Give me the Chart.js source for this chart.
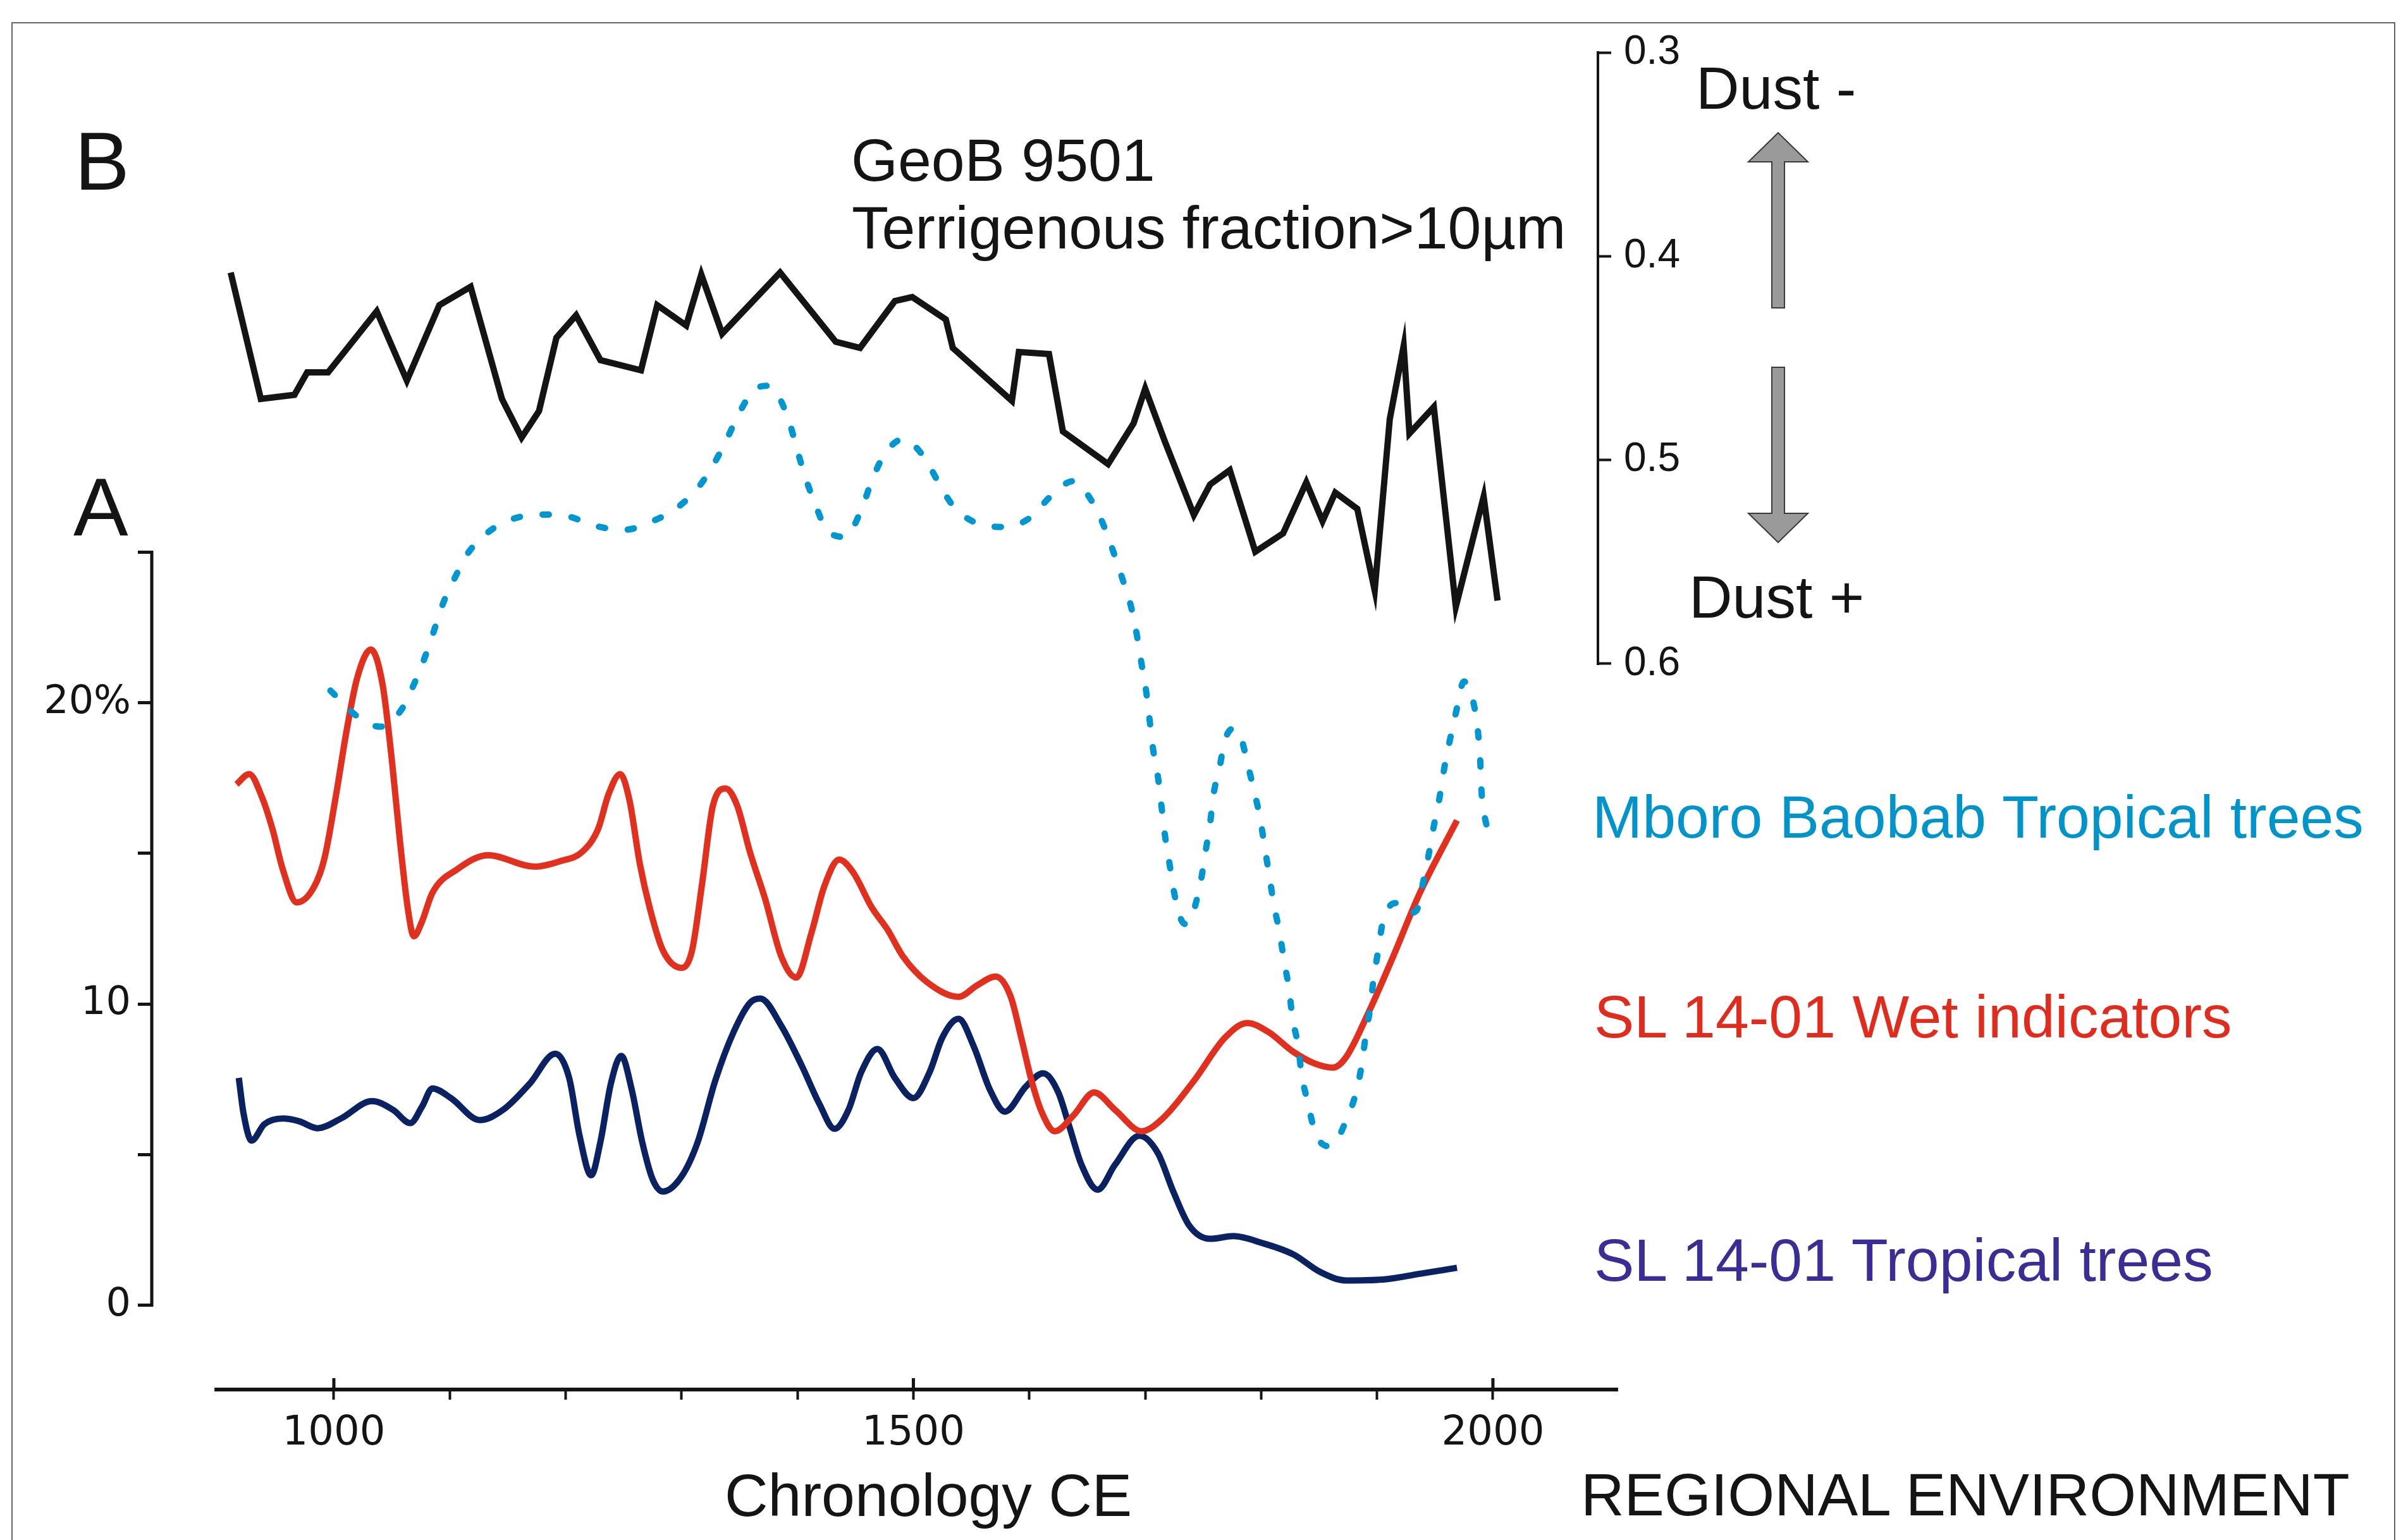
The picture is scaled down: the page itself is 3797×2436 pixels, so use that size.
<!DOCTYPE html>
<html>
<head>
<meta charset="utf-8">
<script src="https://cdn.jsdelivr.net/npm/chart.js@4.4.1/dist/chart.umd.min.js"></script>
<style>
  html, body { margin: 0; padding: 0; background: #fff; }
  #wrap { position: relative; width: 3797px; height: 2436px; overflow: hidden; background: #fff; }
  #chart { position: absolute; left: 0; top: 0; }
  .frame { position: absolute; left: 18px; top: 35px; width: 3770px; height: 2460px; border: 2px solid #666; box-sizing: border-box; }
  .txt { position: absolute; font-family: "Liberation Sans", Arial, sans-serif; font-size: 95px; line-height: 1; white-space: nowrap; color: #141414; }
</style>
</head>
<body>
<div id="wrap">
  <div class="frame"></div>
  <canvas id="chart" width="3797" height="2436"></canvas>
  <div class="txt" style="left:118px; top:190px; font-size:130px;">B</div>
  <div class="txt" style="left:116px; top:737px; font-size:130px;">A</div>
  <div class="txt" style="left:1346px; top:206px;">GeoB 9501</div>
  <div class="txt" style="left:1347px; top:313px;">Terrigenous fraction&gt;10µm</div>
  <div class="txt" style="left:2682px; top:92px;">Dust -</div>
  <div class="txt" style="left:2671px; top:897px;">Dust +</div>
  <div class="txt" style="left:2518px; top:1245px; color:#0094ca;">Mboro Baobab Tropical trees</div>
  <div class="txt" style="left:2521px; top:1561px; color:#e12b1d;">SL 14-01 Wet indicators</div>
  <div class="txt" style="left:2521px; top:1946px; color:#3a2e96;">SL 14-01 Tropical trees</div>
  <div class="txt" style="left:1146px; top:2318px;">Chronology CE</div>
  <div class="txt" style="left:2500px; top:2317px;">REGIONAL ENVIRONMENT</div>
</div>
<script>
// GeoB 9501 terrigenous fraction >10um (right axis, reversed)
let geobYears = [911, 937, 966, 977, 995, 1037, 1063, 1091, 1118, 1145, 1162, 1177, 1192, 1209, 1230, 1265, 1279, 1304, 1317, 1335,
  1385, 1433, 1454, 1484, 1499, 1528, 1534, 1585, 1591, 1617, 1629, 1668, 1690, 1700, 1717, 1742, 1756, 1773, 1795, 1819,
  1839, 1853, 1864, 1883, 1898, 1911, 1923, 1928, 1949, 1968, 1992, 2004];
let geobValues = [0.408, 0.470, 0.468, 0.457, 0.457, 0.427, 0.461, 0.424, 0.415, 0.470, 0.489, 0.476, 0.440, 0.429, 0.451, 0.456, 0.424, 0.434, 0.409, 0.438,
  0.408, 0.442, 0.445, 0.422, 0.420, 0.431, 0.445, 0.471, 0.447, 0.448, 0.486, 0.502, 0.482, 0.465, 0.491, 0.527, 0.512, 0.505, 0.545, 0.536,
  0.511, 0.530, 0.516, 0.524, 0.564, 0.480, 0.444, 0.487, 0.474, 0.572, 0.518, 0.569];

// Mboro Baobab tropical trees (%)
let mboroYears = [997, 1020, 1040, 1058, 1069, 1078, 1086, 1094, 1104, 1115, 1133, 1154, 1180, 1203, 1225, 1250, 1275, 1296, 1314, 1327,
  1339, 1350, 1363, 1375, 1384, 1393, 1400, 1407, 1415, 1425, 1441, 1455, 1464, 1475, 1491, 1509, 1521, 1534, 1555, 1579,
  1602, 1618, 1638, 1654, 1665, 1674, 1681, 1688, 1693, 1697, 1701, 1704, 1707, 1711, 1714, 1717, 1721, 1725, 1731, 1736,
  1742, 1748, 1752, 1756, 1759, 1764, 1769, 1777, 1783, 1788, 1794, 1799, 1803, 1807, 1811, 1816, 1820, 1824, 1827, 1832,
  1835, 1840, 1846, 1853, 1860, 1867, 1873, 1882, 1887, 1890, 1894, 1897, 1901, 1905, 1911, 1916, 1926, 1934, 1940, 1945,
  1949, 1954, 1958, 1963, 1968, 1975, 1983, 1987, 1989, 1990, 1993, 2004];
let mboroValues = [20.4, 19.55, 19.2, 19.75, 20.6, 21.45, 22.34, 23.27, 24.11, 24.92, 25.65, 26.09, 26.24, 26.17, 25.87, 25.73, 26.02, 26.46, 27.12, 27.86,
  28.74, 29.63, 30.39, 30.51, 30.14, 29.3, 28.35, 27.45, 26.61, 25.75, 25.5, 26.39, 27.35, 28.23, 28.74, 28.16, 27.35, 26.54, 25.95, 25.83,
  26.17, 26.83, 27.35, 26.68, 25.8, 24.84, 24.03, 23.15, 22.2, 21.25, 20.33, 19.36, 18.4, 17.54, 16.58, 15.61, 14.65, 13.69, 12.8, 12.65,
  13.12, 14.08, 15.04, 16.0, 16.96, 17.82, 18.78, 19.15, 18.8, 18.02, 17.06, 16.19, 15.23, 14.27, 13.31, 12.35, 11.39, 10.52, 9.56, 8.6,
  7.65, 6.78, 5.82, 5.35, 5.28, 5.6, 6.11, 7.07, 8.03, 8.89, 9.85, 10.81, 11.77, 12.73, 13.25, 13.35, 13.0, 13.1, 14.08, 15.04,
  15.9, 16.86, 17.82, 18.78, 19.65, 20.7, 20.03, 19.07, 18.11, 17.15, 16.19, 15.33];

// SL 14-01 wet indicators (%)
let wetYears = [916, 927, 938, 947, 956, 968, 983, 992, 1002, 1011, 1020, 1032, 1042, 1050, 1057, 1064, 1069, 1076, 1085, 1106,
  1133, 1173, 1196, 1214, 1228, 1237, 1247, 1255, 1264, 1273, 1284, 1300, 1309, 1318, 1327, 1338, 1348, 1359, 1372, 1386,
  1399, 1412, 1423, 1436, 1448, 1464, 1478, 1491, 1512, 1539, 1555, 1571, 1584, 1593, 1602, 1611, 1622, 1638, 1656, 1674,
  1697, 1715, 1742, 1769, 1788, 1806, 1828, 1846, 1862, 1873, 1892, 1914, 1937, 1969];
let wetValues = [17.29, 17.63, 16.86, 15.81, 14.46, 13.37, 13.89, 14.85, 16.96, 19.07, 20.8, 21.76, 20.61, 18.11, 15.42, 13.12, 12.25, 12.73, 13.69, 14.46,
  14.94, 14.56, 14.75, 15.04, 15.81, 16.96, 17.63, 16.77, 14.65, 13.12, 11.77, 11.2, 11.77, 14.08, 16.58, 17.15, 16.58, 15.04, 13.5, 11.58,
  10.88, 12.35, 13.89, 14.79, 14.37, 13.21, 12.45, 11.58, 10.72, 10.24, 10.62, 10.91, 10.24, 8.89, 7.45, 6.39, 5.78, 6.3, 7.07, 6.49,
  5.78, 6.2, 7.45, 8.89, 9.37, 9.08, 8.41, 8.03, 7.89, 8.22, 9.66, 11.58, 13.69, 16.09];

// SL 14-01 tropical trees (%)
let tropYears = [918, 922, 929, 940, 956, 970, 986, 1006, 1033, 1051, 1066, 1076, 1085, 1101, 1126, 1146, 1169, 1191, 1203, 1212,
  1222, 1230, 1239, 1248, 1257, 1266, 1275, 1284, 1300, 1314, 1329, 1345, 1359, 1368, 1386, 1404, 1419, 1432, 1444, 1455,
  1469, 1484, 1500, 1514, 1525, 1539, 1552, 1566, 1579, 1597, 1612, 1625, 1634, 1645, 1659, 1674, 1695, 1711, 1724, 1738,
  1756, 1776, 1801, 1828, 1851, 1873, 1905, 1937, 1969];
let tropValues = [7.55, 6.39, 5.47, 6.01, 6.2, 6.11, 5.88, 6.2, 6.78, 6.49, 6.05, 6.59, 7.2, 6.88, 6.15, 6.49, 7.36, 8.35, 7.55, 5.63,
  4.32, 5.43, 7.36, 8.28, 7.16, 5.43, 4.19, 3.78, 4.28, 5.43, 7.45, 9.08, 10.04, 10.18, 9.28, 7.93, 6.68, 5.86, 6.49, 7.74,
  8.51, 7.55, 6.88, 7.74, 8.89, 9.51, 8.6, 7.16, 6.43, 7.26, 7.7, 7.07, 6.01, 4.67, 3.84, 4.67, 5.63, 5.05, 3.8, 2.65,
  2.21, 2.3, 2.07, 1.69, 1.11, 0.83, 0.86, 1.05, 1.25];

// ticks
let xTickValues = [1000, 1100, 1200, 1300, 1400, 1500, 1600, 1700, 1800, 1900, 2000];
let xLabelValues = [1000, 1500, 2000];
let pctTickValues = [0, 5, 10, 15, 20, 25];
let pctTickLabels = {0: '0', 10: '10', 20: '20%'};
let dustTickValues = [0.3, 0.4, 0.5, 0.6];

function pts(xs, ys) {
  return xs.map((x, i) => ({x: x, y: ys[i]}));
}

let ink = '#141414';

let axisLines = {
  id: 'axisLines',
  afterDraw(chart) {
    let ctx = chart.ctx;
    let area = chart.chartArea;
    let x = chart.scales.x, yA = chart.scales.yA, yB = chart.scales.yB;
    ctx.save();
    ctx.strokeStyle = ink;
    ctx.lineCap = 'butt';
    let seg = (x1, y1, x2, y2) => { ctx.beginPath(); ctx.moveTo(x1, y1); ctx.lineTo(x2, y2); ctx.stroke(); };

    // percent axis (A)
    ctx.lineWidth = 5;
    seg(area.left, yA.getPixelForValue(25) - 2, area.left, yA.getPixelForValue(0) + 2);
    // time axis
    ctx.lineWidth = 6;
    seg(x.getPixelForValue(897), area.bottom, x.getPixelForValue(2108), area.bottom);
    ctx.lineWidth = 5;
    xLabelValues.forEach(v => seg(x.getPixelForValue(v), area.bottom - 18, x.getPixelForValue(v), area.bottom));
    // dust axis (B)
    ctx.lineWidth = 4;
    seg(area.right, yB.getPixelForValue(0.3) - 2, area.right, yB.getPixelForValue(0.6) + 2);

    // grey arrows
    ctx.fillStyle = '#9a9a9a';
    ctx.strokeStyle = '#3a3a3a';
    ctx.lineWidth = 2;
    let cx = 2812;
    ctx.beginPath();
    ctx.moveTo(cx, 210); ctx.lineTo(cx + 47, 256); ctx.lineTo(cx + 10, 256); ctx.lineTo(cx + 10, 487);
    ctx.lineTo(cx - 10, 487); ctx.lineTo(cx - 10, 256); ctx.lineTo(cx - 47, 256); ctx.closePath();
    ctx.fill(); ctx.stroke();
    ctx.beginPath();
    ctx.moveTo(cx, 858); ctx.lineTo(cx + 47, 812); ctx.lineTo(cx + 10, 812); ctx.lineTo(cx + 10, 581);
    ctx.lineTo(cx - 10, 581); ctx.lineTo(cx - 10, 812); ctx.lineTo(cx - 47, 812); ctx.closePath();
    ctx.fill(); ctx.stroke();
    ctx.restore();
  }
};

let chart = new Chart(document.getElementById('chart'), {
  type: 'line',
  data: {
    datasets: [{
      label: 'GeoB 9501 Terrigenous fraction>10µm',
      data: pts(geobYears, geobValues),
      yAxisID: 'yB',
      borderColor: ink,
      borderWidth: 10,
      borderJoinStyle: 'miter',
      tension: 0,
      pointRadius: 0
    }, {
      label: 'Mboro Baobab Tropical trees',
      data: pts(mboroYears, mboroValues),
      yAxisID: 'yA',
      borderColor: '#0096d1',
      borderWidth: 10,
      borderDash: [10, 36],
      borderCapStyle: 'round',
      cubicInterpolationMode: 'monotone',
      pointRadius: 0
    }, {
      label: 'SL 14-01 Wet indicators',
      data: pts(wetYears, wetValues),
      yAxisID: 'yA',
      borderColor: '#e2301f',
      borderWidth: 10,
      cubicInterpolationMode: 'monotone',
      pointRadius: 0
    }, {
      label: 'SL 14-01 Tropical trees',
      data: pts(tropYears, tropValues),
      yAxisID: 'yA',
      borderColor: '#0b2262',
      borderWidth: 10,
      cubicInterpolationMode: 'monotone',
      pointRadius: 0
    }]
  },
  options: {
    responsive: false,
    animation: false,
    devicePixelRatio: 1,
    events: [],
    layout: { padding: { left: 40, right: 1120, top: 83, bottom: 118 } },
    plugins: { legend: { display: false }, tooltip: { enabled: false } },
    scales: {
      x: {
        type: 'linear',
        min: 842.9,
        max: 2090.6,
        afterFit: s => { s.height = 120; },
        afterBuildTicks: s => { s.ticks = xTickValues.map(v => ({value: v})); },
        border: { display: false },
        grid: { drawOnChartArea: false, drawTicks: true, tickLength: 16, tickWidth: 4, tickColor: ink },
        ticks: {
          autoSkip: false, maxRotation: 0, padding: 16, color: ink,
          font: { family: 'DejaVu Sans', size: 64 },
          callback: v => xLabelValues.includes(v) ? String(v) : ''
        }
      },
      yA: {
        type: 'linear',
        position: 'left',
        min: -2.79,
        max: 41.57,
        afterFit: s => { s.width = 200; },
        afterBuildTicks: s => { s.ticks = pctTickValues.map(v => ({value: v})); },
        border: { display: false },
        grid: { drawOnChartArea: false, drawTicks: true, tickLength: 22, tickWidth: 5, tickColor: ink },
        ticks: {
          padding: 11, color: ink,
          font: { family: 'DejaVu Sans', size: 62 },
          callback: v => pctTickLabels[v] !== undefined ? pctTickLabels[v] : ''
        }
      },
      yB: {
        type: 'linear',
        position: 'right',
        reverse: true,
        min: 0.3,
        max: 0.9562,
        afterFit: s => { s.width = 150; },
        afterBuildTicks: s => { s.ticks = dustTickValues.map(v => ({value: v})); },
        border: { display: false },
        grid: { drawOnChartArea: false, drawTicks: true, tickLength: 21, tickWidth: 4, tickColor: ink },
        ticks: {
          padding: 20, color: ink,
          font: { family: 'Liberation Sans', size: 64 },
          callback: v => Number(v).toFixed(1)
        }
      }
    }
  },
  plugins: [axisLines]
});
</script>
</body>
</html>
